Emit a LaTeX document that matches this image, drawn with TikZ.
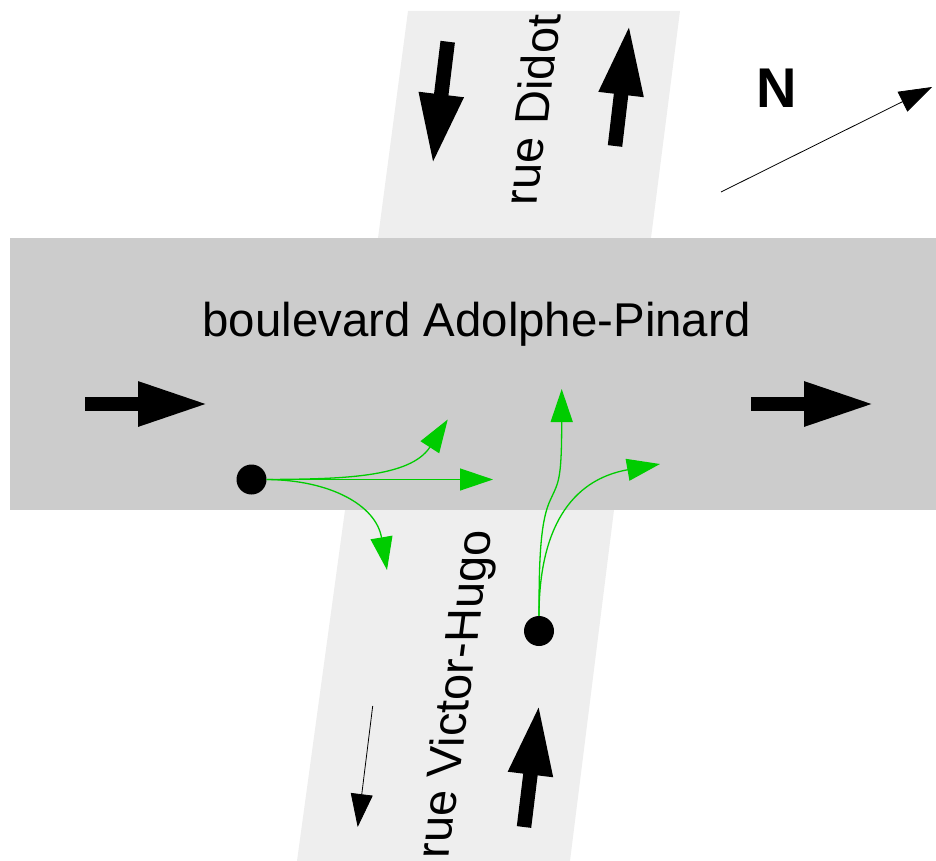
\documentclass[tikz,border=0pt]{standalone}
\usepackage{fontspec}
\setmainfont{Liberation Sans}
\usetikzlibrary{arrows.meta}
\definecolor{roadmain}{HTML}{CCCCCC}
\definecolor{roadside}{HTML}{EEEEEE}
\definecolor{turngreen}{HTML}{00CC00}
\tikzset{
  bigarrow/.style={line width=14.5pt,-{Triangle[length=71pt,width=41pt]},shorten >=-3pt},
  thinarrow/.style={line width=0.8pt,-{Triangle[length=33pt,width=22pt]}},
  turnarrow/.style={draw=turngreen,fill=none,line width=1.3pt,-{Triangle[length=33pt,width=22pt,fill=turngreen]}},
  dotnode/.style={circle,fill=black,draw=none,minimum size=30pt,inner sep=0pt},
  roadlabel/.style={font=\fontsize{47.4}{47.4}\selectfont,inner sep=0pt,text=black},
  sidelabel/.style={roadlabel,transform shape},
  sideaxes/.style={cm={0.13,0.9915,-1,0,(0,0)}},
}
\begin{document}
\begin{tikzpicture}[x=1pt,y=-1pt]
\useasboundingbox (0,0) rectangle (936,861);
\clip (0,0) rectangle (936,861);
\fill[roadside] (408,11) -- (680,11) -- (651,238) -- (378,238) -- cycle;
\fill[roadside] (345,510) -- (614,510) -- (570,861) -- (297,861) -- cycle;
\fill[roadmain] (10,238) rectangle (936,510);

\node[roadlabel] (blvd) at (476.5,324) {boulevard Adolphe-Pinard};
\begin{scope}[shift={(532,110)},sideaxes]
\node[sidelabel] (didot) at (0,0) {rue Didot};
\end{scope}
\begin{scope}[shift={(458,694.5)},sideaxes]
\node[sidelabel] (hugo) at (0,0) {rue Victor-Hugo};
\end{scope}
\node[font=\bfseries\fontsize{56}{56}\selectfont,inner sep=0pt] (north) at (777,88) {N};

\coordinate (a1s) at (85,404);   \coordinate (a1e) at (206,404);
\coordinate (a2s) at (751,404);  \coordinate (a2e) at (872,404);
\coordinate (a3s) at (447.7,41.7); \coordinate (a3e) at (433,162);
\coordinate (a4s) at (615,146);  \coordinate (a4e) at (629,27);
\coordinate (a5s) at (524,827);  \coordinate (a5e) at (538.7,707);
\coordinate (t1s) at (372.7,706); \coordinate (t1e) at (357.7,827);
\coordinate (t2s) at (721,192);  \coordinate (t2e) at (932,87);
\draw[bigarrow] (a1s) -- (a1e);
\draw[bigarrow] (a2s) -- (a2e);
\draw[bigarrow] (a3s) -- (a3e);
\draw[bigarrow] (a4s) -- (a4e);
\draw[bigarrow] (a5s) -- (a5e);
\draw[thinarrow] (t1s) -- (t1e);
\draw[thinarrow] (t2s) -- (t2e);

\node[dotnode] (d1) at (251.5,479.5) {};
\node[dotnode] (d2) at (539,631) {};
\coordinate (g1) at (447.7,419.5);
\coordinate (g2) at (493,479.5);
\coordinate (g3) at (387,570);
\coordinate (g4) at (561.7,389);
\coordinate (g5) at (660,464);
\coordinate (gm) at (549,503);
\draw[turnarrow] (d1.east) .. controls (340,479) and (410,478) .. (g1);
\draw[turnarrow] (d1.east) -- (g2);
\draw[turnarrow] (d1.east) .. controls (330,480) and (376,505) .. (g3);
\draw[turnarrow] (d2.north) .. controls (539,565) and (540,525) .. (gm) .. controls (558,482) and (561.7,485) .. (g4);
\draw[turnarrow] (d2.north) .. controls (539,530) and (570,480) .. (g5);
\end{tikzpicture}
\end{document}
